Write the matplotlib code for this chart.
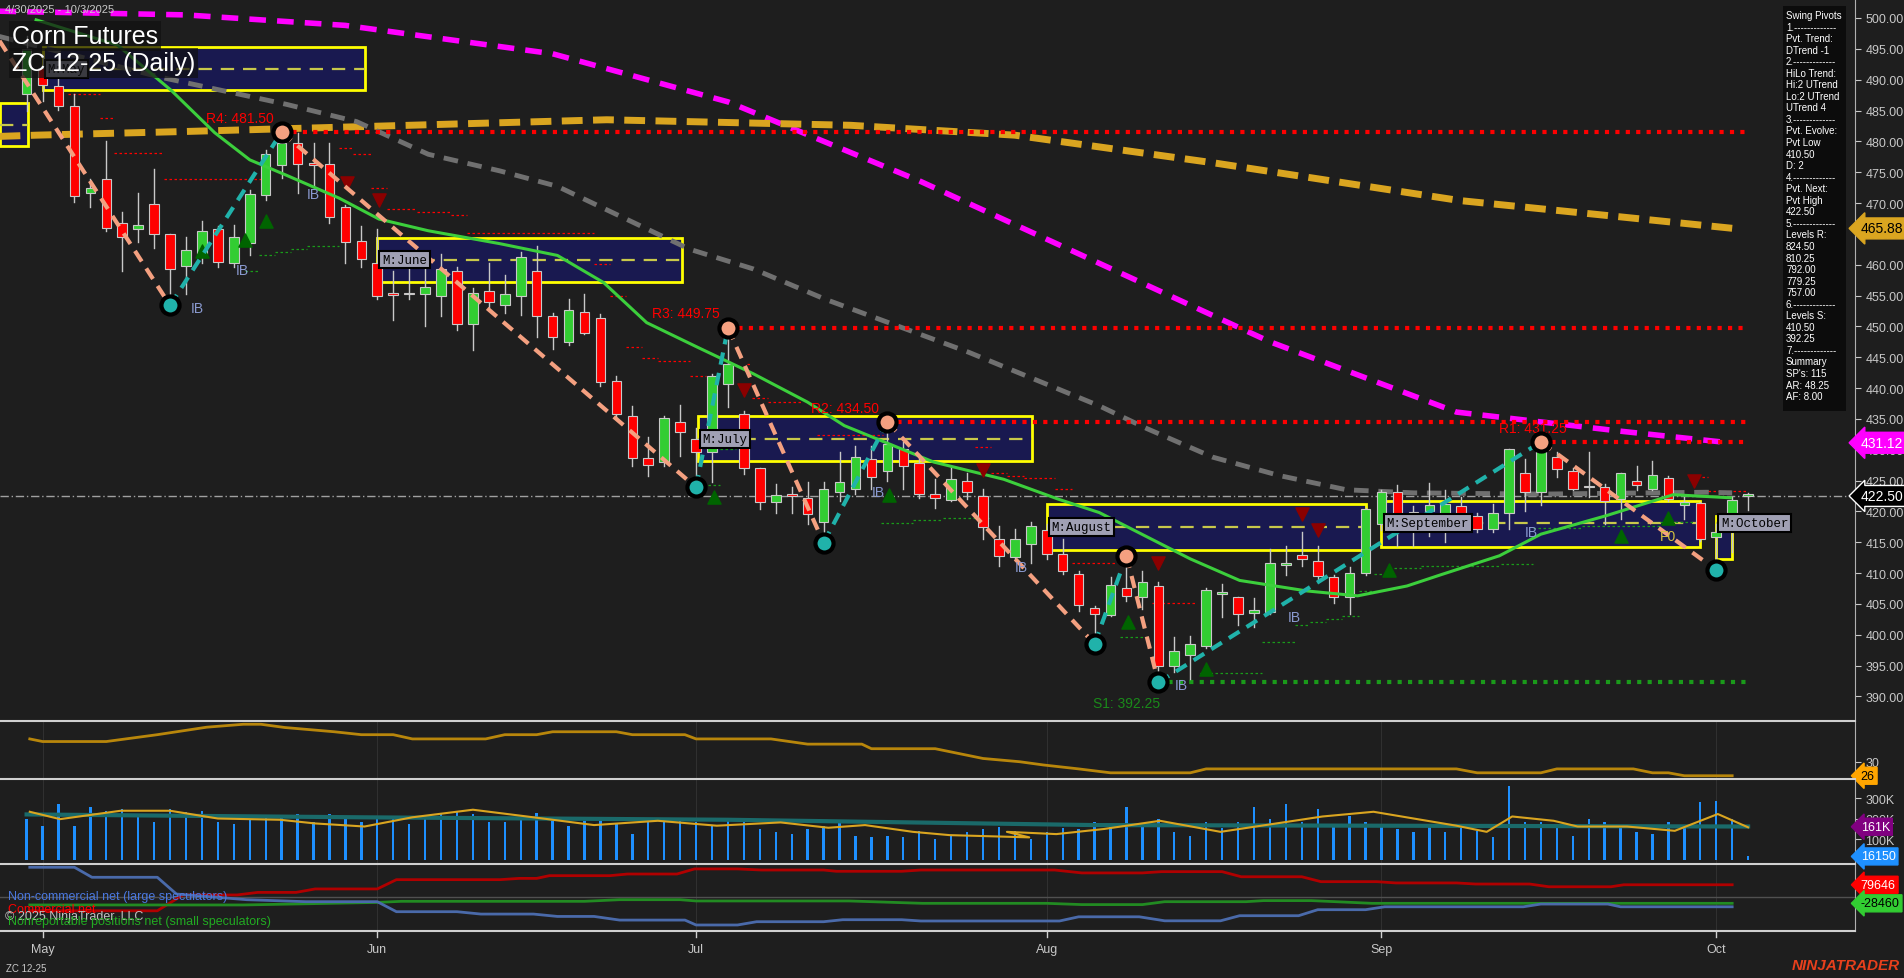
"""Corn Futures ZC 12-25 daily chart, NinjaTrader style."""
import matplotlib
matplotlib.use("Agg")
import matplotlib.pyplot as plt
from matplotlib.patches import Rectangle
import numpy as np

plt.rcParams["font.family"] = ["Liberation Sans", "DejaVu Sans"]

W, H = 1904, 979
BG = "#1e1e1e"
TXT = "#c8c8c8"

# ---- daily OHLC, bar 0 = 4/30/2025 ... bar 108 = 10/3/2025 ----
opens = [487.6, 491.9, 489.0, 485.8, 471.6, 473.9, 466.8, 465.8, 469.8, 464.9,
         459.8, 461.7, 465.8, 460.3, 463.5, 471.3, 476.1, 479.8, 476.4, 476.4,
         469.3, 463.9, 460.3, 455.3, 455.4, 455.3, 455.0, 459.0, 450.3, 455.8,
         453.4, 455.0, 459.0, 451.7, 447.5, 452.3, 451.3, 441.2, 435.5, 428.6,
         428.0, 434.5, 431.7, 429.6, 440.6, 435.8, 427.0, 421.5, 422.6, 422.1,
         418.2, 423.1, 423.6, 428.5, 426.6, 430.1, 427.9, 422.8, 421.9, 425.0,
         422.5, 415.5, 412.6, 414.7, 417.0, 413.1, 409.8, 404.4, 403.2, 407.5,
         406.1, 407.9, 395.0, 396.7, 398.2, 406.6, 406.1, 403.5, 403.6, 411.3,
         412.9, 412.0, 409.3, 406.1, 410.0, 418.0, 423.1, 419.9, 420.0, 417.1,
         420.9, 419.3, 417.2, 419.8, 426.3, 423.1, 428.8, 426.6, 424.0, 423.9,
         422.0, 425.0, 423.7, 425.4, 421.1, 421.3, 415.8, 419.3, 422.5]
highs = [497.0, 494.0, 490.7, 487.6, 473.9, 480.1, 468.6, 471.7, 475.5, 465.0,
         464.5, 467.1, 466.2, 466.5, 472.1, 478.6, 481.5, 481.4, 479.8, 479.8,
         469.6, 466.3, 465.8, 459.0, 459.6, 461.5, 461.8, 459.6, 456.2, 460.3,
         458.4, 462.1, 463.1, 452.2, 454.4, 455.2, 452.0, 442.0, 437.1, 432.0,
         435.5, 437.2, 433.5, 442.3, 449.75, 436.3, 427.1, 424.4, 423.9, 424.7,
         424.7, 429.6, 430.6, 430.6, 434.5, 431.2, 429.3, 425.2, 427.4, 426.3,
         423.6, 417.7, 417.1, 418.2, 418.0, 415.5, 410.4, 404.7, 409.3, 412.8,
         410.4, 408.5, 399.6, 399.8, 407.5, 408.2, 406.1, 405.9, 413.9, 414.4,
         416.6, 414.4, 409.6, 410.9, 420.6, 423.4, 424.2, 420.9, 424.6, 423.5,
         422.3, 419.8, 421.2, 430.1, 428.5, 431.25, 429.6, 427.1, 429.6, 424.4,
         426.3, 427.4, 428.2, 425.8, 422.5, 421.5, 418.0, 422.3, 423.0]
lows = [485.0, 486.6, 485.1, 470.2, 469.3, 465.4, 459.0, 463.7, 462.7, 453.4,
        455.3, 460.3, 459.6, 459.6, 461.6, 470.5, 474.0, 471.7, 472.7, 466.8,
        460.3, 459.6, 454.4, 451.0, 454.4, 450.0, 451.7, 449.4, 446.1, 453.1,
        452.1, 451.9, 448.2, 446.3, 446.9, 448.7, 440.4, 435.2, 427.4, 425.8,
        427.4, 429.0, 423.9, 424.7, 437.0, 426.0, 420.4, 419.8, 419.8, 417.9,
        414.9, 421.7, 422.8, 423.6, 425.0, 423.6, 422.2, 420.6, 421.7, 422.0,
        415.5, 411.2, 412.3, 411.7, 412.3, 409.8, 403.9, 398.5, 403.1, 405.4,
        404.2, 392.25, 393.9, 392.8, 397.9, 402.8, 401.5, 401.2, 403.4, 409.6,
        411.2, 408.5, 405.2, 403.4, 409.7, 417.0, 414.4, 414.4, 416.0, 415.0,
        416.9, 416.6, 416.6, 417.2, 420.0, 421.0, 425.5, 423.4, 422.3, 418.0,
        418.8, 423.4, 423.4, 421.7, 418.8, 415.2, 410.5, 413.4, 420.3]
closes = [495.0, 489.1, 485.8, 471.1, 472.4, 466.0, 464.5, 466.5, 464.9, 459.3,
          462.4, 465.4, 460.4, 464.5, 471.4, 477.9, 479.8, 476.4, 476.2, 467.7,
          463.7, 460.9, 455.0, 455.1, 455.2, 456.4, 459.3, 450.3, 455.4, 453.9,
          455.3, 461.2, 451.7, 448.3, 452.7, 448.9, 441.0, 435.8, 428.6, 427.5,
          435.1, 432.8, 429.6, 442.0, 443.9, 427.1, 421.5, 422.6, 422.5, 419.6,
          423.6, 424.7, 428.8, 425.5, 430.9, 427.3, 422.8, 422.2, 425.3, 423.1,
          417.4, 412.8, 415.5, 417.6, 413.1, 410.4, 404.8, 403.4, 408.1, 406.2,
          408.5, 395.0, 397.4, 398.5, 407.3, 406.7, 403.4, 404.0, 411.7, 411.5,
          412.3, 409.5, 406.1, 410.0, 420.4, 423.1, 418.5, 419.7, 421.0, 421.2,
          419.8, 417.2, 419.8, 430.1, 423.1, 429.8, 426.9, 423.6, 423.9, 421.7,
          426.3, 424.3, 425.9, 422.0, 421.5, 415.5, 416.6, 421.8, 422.5]

# moving averages (bar index, price)
ma_green_x = [0.6, 5.7, 9.1, 11.8, 14, 16.3, 19.6, 22.1, 25.2, 29.7, 33.3, 36.2, 38.9, 42.1,
              45.6, 49, 51.3, 56.9, 61.3, 64.7, 67.3, 73, 76.1, 80.3, 83.5, 86.6, 88.7,
              92.4, 95, 99.1, 103.3, 106.9]
ma_green_y = [499.7, 495.6, 488.2, 481.4, 477.0, 474.5, 470.8, 467.4, 465.5, 463.4, 461.5,
              457.1, 450.6, 446.6, 442.3, 437.7, 433.9, 428.0, 425.2, 422.0, 419.8, 412.3,
              408.8, 407.1, 406.3, 407.9, 409.7, 412.8, 416.3, 419.3, 422.7, 422.2]
ma_gray_x = [-1.7, 8.4, 11.8, 16.3, 20.7, 25.2, 29.7, 33.3, 41.6, 45.6, 50.1, 54.6, 59.1,
             67.3, 70.3, 74.4, 78.6, 82.8, 87, 95, 105.4, 107]
ma_gray_y = [497.0, 490.4, 488.5, 486.0, 483.2, 477.9, 475.2, 472.7, 462.5, 459.3, 454.4,
             450.1, 445.8, 437.1, 433.4, 428.8, 425.8, 423.5, 423.0, 422.8, 423.1, 423.0]
ma_pink_x = [-1.7, 10, 20, 33, 44, 56, 65.8, 78, 89.7, 100, 106.9]
ma_pink_y = [501.1, 500.5, 498.8, 494.2, 486.4, 473.6, 462.0, 447.5, 436.1, 433.0, 431.1]
ma_gold_x = [-1.7, 0.6, 10, 21.2, 36.4, 51.7, 62, 74.5, 89.9, 98.3, 107]
ma_gold_y = [480.8, 481.0, 481.6, 482.4, 483.5, 482.6, 481.0, 476.5, 470.4, 468.2, 465.9]

# swing pivots (bar, price)
piv_x = [-1.7, 9, 16, 42, 44, 50, 54, 67, 69, 71, 95, 106]
piv_y = [496.3, 453.4, 481.5, 423.9, 449.75, 414.9, 434.5, 398.5, 412.8, 392.25, 431.25, 410.5]

# horizontal levels (label, price, start bar)
res_levels = [("R4: 481.50", 481.5, 16), ("R3: 449.75", 449.75, 44),
              ("R2: 434.50", 434.5, 54), ("R1: 431.25", 431.25, 95)]
sup_levels = [("S1: 392.25", 392.25, 71)]

# monthly boxes (name, start bar, end bar, top, bottom, mid)
months_box = [("", -1.7, 0.1, 486.2, 479.2, 482.6),
              ("M:May", 1, 21.2, 495.3, 488.4, 491.7),
              ("M:June", 22, 41.1, 464.4, 457.2, 460.8),
              ("M:July", 42.1, 63.1, 435.5, 428.1, 431.7),
              ("M:August", 64, 84, 421.2, 413.8, 417.5),
              ("M:September", 85, 105, 421.6, 414.3, 418.1),
              ("M:October", 106, 107, 419.3, 412.2, 418.1)]

# trailing stop steps (start bar, end bar, level)
red_trail = [(2.6, 4.6, 487.6), (4.6, 5.5, 483.8), (5.5, 8.6, 478.1), (8.6, 15, 473.9),
             (19.6, 20.5, 478.9), (20.5, 21.6, 478.0), (21.6, 22.6, 472.5), (22.6, 24.5, 469.1),
             (24.5, 26.6, 468.6), (26.6, 27.6, 468.1), (27.6, 35.6, 465.1), (35.6, 36.6, 460.1),
             (36.6, 37.6, 455.0), (37.6, 38.6, 446.6), (38.6, 39.6, 444.8), (39.6, 41.6, 444.3),
             (41.6, 42.6, 441.9), (45.2, 45.5, 443.9), (45.5, 46.5, 438.4), (46.5, 48.6, 437.8),
             (49.6, 53.7, 432.4), (59.5, 60.5, 430.5), (60.5, 61.5, 426.3), (61.5, 62.6, 425.8),
             (62.6, 64.5, 425.4), (64.5, 65.6, 423.7), (65.6, 66.5, 411.7), (66.5, 68.4, 411.6),
             (70.6, 73.4, 405.2), (104.5, 105.5, 425.5), (105.5, 108, 423.3)]
green_trail = [(13.7, 14.6, 458.9), (14.6, 15.6, 461.6), (15.6, 16.6, 462.1), (16.6, 17.6, 462.6),
               (17.6, 19.6, 463.0), (41.8, 43.5, 424.3), (43.5, 44.5, 430.1), (53.6, 55.6, 418.1),
               (55.6, 57.5, 418.6), (57.5, 60.4, 419.0), (68.6, 70.5, 399.7), (73.6, 77.5, 393.8),
               (77.5, 79.6, 398.8), (79.6, 80.5, 401.6), (80.5, 81.5, 402.0), (81.5, 82.5, 402.5),
               (82.5, 83.6, 403.0), (83.6, 84.5, 407.1), (84.5, 85.5, 409.9), (85.5, 87.5, 410.8),
               (87.5, 92.5, 411.2), (92.5, 94.5, 411.4), (94.5, 97.6, 417.3), (97.6, 102.5, 417.7),
               (102.5, 104.6, 418.2)]

tri_up_x = [11, 13.7, 15, 43.1, 54.1, 69.1, 74, 85.5, 100, 103]
tri_up_y = [463.7, 465.5, 468.6, 423.9, 424.2, 403.6, 396.0, 412.0, 417.5, 420.5]
tri_dn_x = [20.1, 22.1, 45.0, 60.0, 71.0, 80, 81, 104.6]
tri_dn_y = [471.7, 469.0, 438.2, 425.2, 410.1, 418.0, 415.5, 423.5]
ib_x = [10.3, 13.1, 17.6, 53.0, 62.0, 72.0, 79.1, 94.0]
ib_y = [452.9, 459.2, 471.4, 423.1, 410.9, 391.8, 402.8, 416.6]

# lower panel: oscillator (bar, value)
osc_x = [0.2, 1, 5, 8.2, 11.3, 13.6, 14.7, 16.2, 19.3, 21, 23, 24.2, 28.8, 30, 32, 33, 37, 38,
         41.3, 42, 46.7, 49, 52.4, 53, 57, 60, 62.3, 63.8, 66, 68, 73, 74, 89.7, 91, 95, 96,
         100.8, 102, 103, 104, 107]
osc_y = [37.0, 36.2, 36.2, 38.3, 40.6, 41.5, 41.5, 40.5, 39.2, 38.3, 38.3, 37.0, 37.0, 38.3,
         38.3, 39.2, 39.2, 38.3, 38.3, 37.0, 37.0, 35.4, 35.4, 34.0, 34.0, 31.0, 30.0, 29.0,
         27.8, 26.6, 26.6, 27.8, 27.8, 26.6, 26.6, 27.8, 27.8, 26.6, 26.6, 25.7, 25.7]

# volume (thousands per bar)
volume_k = [198, 166, 272, 166, 257, 239, 247, 223, 182, 247, 231, 239, 182, 174, 198, 207,
            215, 223, 182, 223, 198, 182, 215, 198, 174, 215, 223, 239, 223, 182, 182, 198,
            228, 190, 166, 190, 198, 174, 125, 190, 182, 198, 182, 166, 198, 198, 150, 133,
            125, 150, 166, 182, 117, 109, 117, 109, 141, 101, 117, 133, 150, 158, 141, 101,
            133, 155, 150, 182, 158, 257, 174, 198, 133, 117, 182, 153, 182, 257, 198, 272,
            182, 247, 158, 215, 182, 166, 150, 133, 158, 133, 158, 141, 109, 361, 182, 182,
            153, 117, 198, 182, 158, 133, 125, 182, 158, 280, 288, 198, 16]
vol_fast_x = [0.2, 2.1, 5.9, 9, 12, 15.9, 18.1, 21.2, 24.2, 28, 31.8, 35.6, 39.6, 43.3, 47.3,
              50.3, 52.6, 55.6, 57.9, 62.9, 61.5, 64.6, 67.6, 71.1, 74.9, 81.3, 84.5, 89.7,
              91.6, 93.2, 95.8, 97.3, 100.4, 103.4, 106.1, 108]
vol_fast_k = [234, 198, 239, 239, 201, 195, 177, 162, 207, 244, 207, 169, 190, 166, 182, 156,
              169, 136, 120, 109, 136, 125, 150, 190, 136, 211, 234, 166, 136, 211, 190, 162,
              162, 141, 223, 158]
vol_slow_x = [0, 21, 44, 67, 108]
vol_slow_k = [221, 207, 195, 169, 162]

# COT nets (bar, thousands)
cot_red_x = [0.2, 8.2, 9.8, 13.2, 14.5, 16.9, 18.1, 22, 23.2, 29.7, 30.9, 32, 32.8, 36.6,
             37.7, 40.8, 41.9, 44.6, 46.1, 50, 50.8, 54.9, 56.1, 64.5, 66.2, 70, 71.2, 75,
             76.2, 80, 81.2, 84.7, 85.9, 89.7, 90.9, 94.3, 95.5, 99.4, 100.2, 107]
cot_red_y = [-74, -74, 13, 13, 27, 27, 46, 46, 97, 97, 104, 104, 119, 119, 128, 128, 156,
             156, 150, 150, 143, 143, 150, 150, 134, 134, 141, 141, 113, 113, 86, 86, 79, 79,
             73, 73, 58, 58, 69, 69]
cot_blue_x = [0.2, 3, 4.1, 8.2, 9.4, 13.8, 17.5, 22, 23.2, 27, 28.5, 31.8, 33.3, 35.6, 37.2,
              41.3, 42, 44.6, 45.8, 50, 51.2, 54.9, 56.1, 64.8, 66, 69.8, 71.4, 74.9, 76.1,
              79.8, 81, 84, 85.2, 93.9, 95, 99.2, 100, 107]
cot_blue_y = [165, 165, 110, 110, 18, -13, -24, -24, -79, -79, -92, -92, -105, -105, -125,
              -125, -152, -152, -134, -134, -123, -123, -130, -130, -107, -107, -129, -129,
              -101, -101, -68, -68, -52, -52, -37, -37, -52, -52]
cot_green_x = [0.2, 13.6, 22, 23.5, 35, 37.2, 41, 42, 51.6, 56.2, 64, 66.2, 70, 71.4, 76.5,
               77.6, 80.6, 84.4, 107]
cot_green_y = [-42, -42, -28, -22, -22, -13, -13, -20, -20, -33, -33, -40, -40, -24, -24,
               -18, -18, -33, -33]

month_ticks = [1, 22, 42, 64, 85, 106]
month_names = ["May", "Jun", "Jul", "Aug", "Sep", "Oct"]

info_lines = ["Swing Pivots", "1.-------------", "Pvt. Trend:", "DTrend -1", "2.-------------",
              "HiLo Trend:", "Hi:2 UTrend", "Lo:2 UTrend", "UTrend 4", "3.-------------",
              "Pvt. Evolve:", "Pvt Low", "410.50", "D: 2", "4.-------------", "Pvt. Next:",
              "Pvt High", "422.50", "5.-------------", "Levels R:", "824.50", "810.25",
              "792.00", "779.25", "757.00", "6.-------------", "Levels S:", "410.50", "392.25",
              "7.-------------", "Summary", "SP's: 115", "AR: 48.25", "AF: 8.00"]

# ---------------- layout helpers ----------------
X0, X1 = -26.6 / 15.94, (1855 - 26.6) / 15.94
fig = plt.figure(figsize=(W / 100, H / 100), dpi=100, facecolor=BG)


def px_axes(x0, y0, x1, y1):
    ax = fig.add_axes([x0 / W, 1 - y1 / H, (x1 - x0) / W, (y1 - y0) / H], facecolor=BG)
    ax.set_xlim(X0, X1)
    for s in ax.spines.values():
        s.set_visible(False)
    ax.tick_params(colors=TXT, labelsize=9, length=4)
    ax.set_xticks([])
    ax.yaxis.tick_right()
    return ax


ax = px_axes(0, 0, 1855, 722)
ax.set_ylim(500 - 703 / 6.167, 503.08)
ax.set_yticks(np.arange(390, 501, 5))
ax.set_yticklabels([f"{v:.2f}" for v in np.arange(390, 501, 5)])
ax.spines["right"].set_visible(True)
ax.spines["right"].set_color("#b0b0b0")

# month boxes
for name, a, b, top, bot, mid in months_box:
    ax.add_patch(Rectangle((a, bot), b - a, top - bot, facecolor="#191950",
                           edgecolor="yellow", lw=2, zorder=1))
    ax.plot([a, b], [mid, mid], color="#c8c84a", lw=1.6, ls=(0, (6, 4)), zorder=2)
    if name:
        ax.text(a + 0.3, mid, name, family="Liberation Mono", fontsize=9, color="black",
                va="center", ha="left", zorder=9,
                bbox=dict(fc="#a0a0b4", ec="black", lw=1.5, pad=2))

ax.axhline(422.5, color="#a0a0a0", lw=1, ls=(0, (6, 2, 1, 2)), zorder=1)

for a, b, lvl in red_trail:
    ax.plot([a, b], [lvl, lvl], color="red", lw=0.9, ls=(0, (2, 2)), zorder=2)
for a, b, lvl in green_trail:
    ax.plot([a, b], [lvl, lvl], color="#1a9a1a", lw=0.9, ls=(0, (2, 2)), zorder=2)

ax.plot(ma_pink_x, ma_pink_y, color="#ff00ff", lw=4, ls=(0, (3, 2)), zorder=3)
ax.plot(ma_gold_x, ma_gold_y, color="#daa520", lw=5, ls=(0, (3, 1.5)), zorder=3)
ax.plot(ma_gray_x, ma_gray_y, color="#707070", lw=3.5, ls=(0, (3, 2)), zorder=3)

for lab, lvl, start in res_levels:
    ax.plot([start, 108], [lvl, lvl], color="red", lw=3, ls=(0, (1, 1.5)), zorder=3)
    ax.text(start - 0.5, lvl + 1.2, lab, color="red", fontsize=10,
            ha="right" if start < 90 else "center", va="bottom", zorder=8)
for lab, lvl, start in sup_levels:
    ax.plot([start, 108], [lvl, lvl], color="#1a9a1a", lw=3, ls=(0, (1, 1.5)), zorder=3)
    ax.text(start - 2, lvl - 2.2, lab, color="#1a8a1a", fontsize=10, ha="center", va="top")

# candles
idx = np.arange(len(closes))
for i, o, h, l, c in zip(idx, opens, highs, lows, closes):
    col = "#32cd32" if c >= o else "#ff0000"
    ax.plot([i, i], [l, h], color="#c8c8c8", lw=1, zorder=4)
    ax.add_patch(Rectangle((i - 0.3, min(o, c)), 0.6, max(abs(c - o), 0.25), facecolor=col,
                           edgecolor="#c8c8c8", lw=0.8, zorder=5))

ax.plot(ma_green_x, ma_green_y, color="#3ccf3c", lw=2.2, zorder=6)

# zigzag
for k in range(len(piv_x) - 1):
    up = piv_y[k + 1] > piv_y[k]
    ax.plot(piv_x[k:k + 2], piv_y[k:k + 2], color="#20b2aa" if up else "#f4a080",
            lw=3, ls=(0, (3, 2)), zorder=7)
for k, (px, py) in enumerate(zip(piv_x, piv_y)):
    if px < 0:
        continue
    low = piv_y[k] < piv_y[k - 1]
    ax.scatter(px, py, s=170, color="#20b2aa" if low else "#f4a080", edgecolor="black",
               lw=3, zorder=8)

ax.scatter(tri_up_x, [y - 1.5 for y in tri_up_y], marker="^", s=90, color="#006400", zorder=6)
ax.scatter(tri_dn_x, [y + 1.5 for y in tri_dn_y], marker="v", s=90, color="#8b0000", zorder=6)
for x, y in zip(ib_x, ib_y):
    ax.text(x, y, "IB", color="#8a9ad0", fontsize=10, ha="left", va="center", zorder=8)
ax.text(103, 416, "F0", color="#d4c040", fontsize=10, ha="center", va="center", zorder=8)

# right-edge price tags
for val, fc, tc in [(465.88, "#daa520", "black"), (431.12, "#ff00ff", "white"),
                    (422.50, "black", "white")]:
    ax.text(1.003, val, f"{val:.2f}", transform=ax.get_yaxis_transform(), fontsize=10,
            color=tc, va="center", ha="left", zorder=10,
            bbox=dict(boxstyle="larrow,pad=0.25", fc=fc, ec="white" if fc == "black" else fc))

# title block
fig.text(5 / W, 1 - 10 / H, "4/30/2025 - 10/3/2025", color=TXT, fontsize=8, va="center")
fig.text(12 / W, 1 - 37 / H, "Corn Futures", color="white", fontsize=18, va="center",
         bbox=dict(fc="#101010", ec="none", alpha=0.7, pad=2))
fig.text(12 / W, 1 - 64 / H, "ZC 12-25 (Daily)", color="white", fontsize=18, va="center",
         bbox=dict(fc="#101010", ec="none", alpha=0.7, pad=2))

# info panel
fig.patches.append(Rectangle((1783 / W, 1 - 412 / H), 63 / W, 405 / H, transform=fig.transFigure,
                             fc="#0c0c0c", ec="none", zorder=5))
for k, line in enumerate(info_lines):
    fig.text(1786 / W, 1 - (16 + k * 11.55) / H, line, color="white", fontsize=7,
             va="center", zorder=6)

# oscillator panel
ax2 = px_axes(0, 722, 1855, 780)
ax2.set_ylim(24.7, 42.5)
ax2.set_yticks([30])
ax2.set_yticklabels(["30"])
ax2.plot(osc_x, osc_y, color="#b8860b", lw=2)
ax2.text(1.003, 25.7, "26", transform=ax2.get_yaxis_transform(), fontsize=9, color="black",
         va="center", bbox=dict(boxstyle="larrow,pad=0.2", fc="#ffa500", ec="#ffa500"))

# volume panel
ax3 = px_axes(0, 780, 1855, 865)
ax3.set_ylim(-21, 394)
ax3.set_yticks([100, 200, 300])
ax3.set_yticklabels(["100K", "200K", "300K"])
ax3.bar(idx, volume_k, width=0.15, color="#1e90ff")
ax3.plot(vol_slow_x, vol_slow_k, color="#1a6a6a", lw=3)
ax3.plot(vol_fast_x, vol_fast_k, color="#daa520", lw=1.5)
ax3.text(1.003, 161, "161K", transform=ax3.get_yaxis_transform(), fontsize=9, color="white",
         va="center", bbox=dict(boxstyle="larrow,pad=0.2", fc="#800080", ec="#800080"))
ax3.text(1.003, 16, "16150", transform=ax3.get_yaxis_transform(), fontsize=9, color="white",
         va="center", bbox=dict(boxstyle="larrow,pad=0.2", fc="#1e90ff", ec="#1e90ff"))

# COT panel
ax4 = px_axes(0, 865, 1855, 932)
ax4.set_ylim(-185, 183)
ax4.set_yticks([])
ax4.axhline(0, color="#505050", lw=1)
ax4.plot(cot_red_x, cot_red_y, color="#b00000", lw=2)
ax4.plot(cot_green_x, cot_green_y, color="#228b22", lw=2)
ax4.plot(cot_blue_x, cot_blue_y, color="#4a6aaa", lw=2)
ax4.text(1.003, 69, "79646", transform=ax4.get_yaxis_transform(), fontsize=9, color="white",
         va="center", bbox=dict(boxstyle="larrow,pad=0.2", fc="red", ec="red"))
ax4.text(1.003, -33, "-28460", transform=ax4.get_yaxis_transform(), fontsize=9, color="black",
         va="center", bbox=dict(boxstyle="larrow,pad=0.2", fc="#32cd32", ec="#32cd32"))
fig.text(8 / W, 1 - 897 / H, "Non-commercial net (large speculators)", color="#4a78e0",
         fontsize=9, va="center")
fig.text(8 / W, 1 - 910 / H, "Commercial net", color="red", fontsize=9, va="center")
fig.text(5 / W, 1 - 917 / H, "© 2025 NinjaTrader, LLC", color="#c0c0c0", fontsize=9, va="center")
fig.text(8 / W, 1 - 922 / H, "Nonreportable positions net (small speculators)", color="#22aa22",
         fontsize=9, va="center")

for a in (ax2, ax3, ax4):
    for m in month_ticks:
        a.axvline(m, color="#303030", lw=0.8, zorder=0)
    a.spines["right"].set_visible(True)
    a.spines["right"].set_color("#b0b0b0")

# panel separators
for y in (722, 780, 865, 932):
    fig.add_artist(plt.Line2D([0, 1855 / W], [1 - y / H, 1 - y / H], color="#d0d0d0", lw=1.5))

# date axis
for m, name in zip(month_ticks, month_names):
    xf = (26.6 + m * 15.94) / W
    fig.add_artist(plt.Line2D([xf, xf], [1 - 932 / H, 1 - 938 / H], color="#d0d0d0", lw=1))
    fig.text(xf, 1 - 950 / H, name, color=TXT, fontsize=9, ha="center", va="center")
fig.text(6 / W, 1 - 969 / H, "ZC 12-25", color=TXT, fontsize=7, va="center")
fig.text(1900 / W, 1 - 966 / H, "NINJATRADER", color="#e8401c", fontsize=11, ha="right",
         va="center", style="italic", weight="bold")

fig.savefig("out.png", dpi=100, facecolor=BG)
